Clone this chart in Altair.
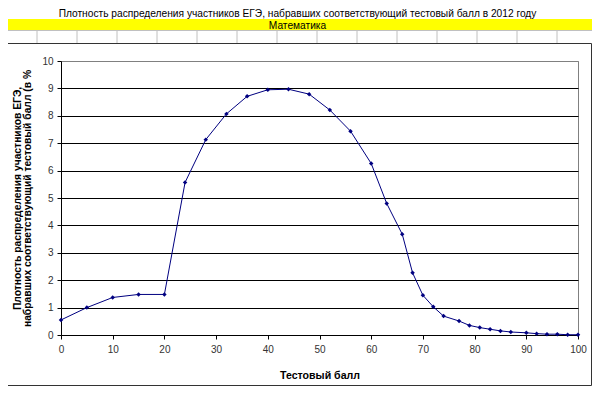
import altair as alt
import pandas as pd

# ---- chart data ----
scores = [0, 5, 10, 15, 20, 24, 28, 32, 36, 40, 44, 48, 52, 56, 60, 63, 66, 68,
          70, 72, 74, 77, 79, 81, 83, 85, 87, 90, 92, 94, 96, 98, 100]
density = [0.55, 1.00, 1.37, 1.48, 1.48, 5.57, 7.13, 8.07, 8.71, 8.95, 8.97, 8.79,
           8.21, 7.44, 6.26, 4.80, 3.68, 2.27, 1.45, 1.03, 0.69, 0.51, 0.35, 0.27,
           0.21, 0.15, 0.11, 0.08, 0.05, 0.03, 0.03, 0.01, 0.01]
y_ticks = [0, 1, 2, 3, 4, 5, 6, 7, 8, 9, 10]
x_ticks = [0, 10, 20, 30, 40, 50, 60, 70, 80, 90, 100]

title_text = "Плотность распределения участников ЕГЭ, набравших соответствующий тестовый балл в 2012 году"
subject_text = "Математика"
x_title = "Тестовый балл"
y_title = ["Плотность распределения участников ЕГЭ,",
           "набравших соответствующий тестовый балл (в %"]

FONT = "Liberation Sans"
OX, OY = 61, 61          # page position of the plot area's top-left corner
W, H = 517, 274          # plot area size
SVG_W, SVG_H = 584, 378  # whole drawing, so that page + margins stay 600x394
TXT = 10.6
HEAD = 10.2

df = pd.DataFrame({"score": scores, "density": density})
one = pd.DataFrame({"k": [0]})

# ---- spreadsheet decoration (cell grid, header rows, chart frame) ----
cell_x = pd.DataFrame({"px": [37 + 40 * k - OX for k in range(14)]})
cells_top = alt.Chart(cell_x).mark_rule(color="#c0c0c0", strokeWidth=1).encode(
    x=alt.X("px:Q", scale=None, axis=None),
    y=alt.value(30 - OY), y2=alt.value(43 - OY))
row_line = alt.Chart(one).mark_rule(color="#c0c0c0", strokeWidth=1).encode(
    x=alt.value(-OX), x2=alt.value(600 - OX), y=alt.value(30.5 - OY))
yellow = alt.Chart(one).mark_rect(color="#ffff00").encode(
    x=alt.value(-OX), x2=alt.value(597 - OX),
    y=alt.value(19 - OY), y2=alt.value(30 - OY))
frame = alt.Chart(one).mark_rect(fill=None, stroke="#333333", strokeWidth=1).encode(
    x=alt.value(0.5 - OX), x2=alt.value(591.5 - OX),
    y=alt.value(43.5 - OY), y2=alt.value(385.5 - OY))
head1 = alt.Chart(one).mark_text(text=title_text, font=FONT, fontSize=HEAD, color="#000000",
                                 align="center", baseline="alphabetic").encode(
    x=alt.value(297.5 - OX), y=alt.value(17.4 - OY))
head2 = alt.Chart(one).mark_text(text=subject_text, font=FONT, fontSize=HEAD, color="#000000",
                                 align="center", baseline="alphabetic").encode(
    x=alt.value(297.5 - OX), y=alt.value(29 - OY))

# ---- data line ----
line = alt.Chart(df).mark_line(
    color="#000080", strokeWidth=1,
    point=alt.OverlayMarkDef(shape="diamond", size=20, filled=True, color="#000080"),
).encode(
    x=alt.X("score:Q",
            scale=alt.Scale(domain=[0, 100], nice=False),
            axis=alt.Axis(values=x_ticks, title=x_title, grid=False, labelFlush=False,
                          domainColor="#000000", tickColor="#000000", tickSize=4,
                          labelFont=FONT, labelFontSize=10, labelColor="#333333",
                          labelPadding=5,
                          titleFont=FONT, titleFontSize=TXT, titleFontWeight="bold",
                          titleColor="#000000", titleBaseline="alphabetic",
                          titleY=43)),
    y=alt.Y("density:Q",
            scale=alt.Scale(domain=[0, 10], nice=False),
            axis=alt.Axis(values=y_ticks, title=y_title, grid=True,
                          gridColor=alt.condition("datum.value == 10",
                                                  alt.value("#808080"),
                                                  alt.value("#000000")),
                          domainColor="#000000", tickColor="#000000", tickSize=4,
                          labelFont=FONT, labelFontSize=10, labelColor="#333333",
                          labelPadding=4,
                          titleFont=FONT, titleFontSize=10.3, titleFontWeight="bold",
                          titleColor="#000000", titleAngle=270, titleAlign="center",
                          titleBaseline="top", titleLineHeight=10.5,
                          titleX=-49, titleY=H / 2)),
)

chart = alt.layer(
    cells_top, row_line, yellow, frame, head1, head2, line
).properties(
    width=W, height=H,
    autosize=alt.AutoSizeParams(type="none"),
    padding={"left": OX - 8, "top": OY - 8, "right": SVG_W - (OX - 8) - W,
             "bottom": SVG_H - (OY - 8) - H},
    background="#ffffff",
).configure_view(stroke="#808080", strokeWidth=1, fill="#ffffff")

chart.save("out.html", embed_options={"renderer": "svg", "actions": False})
